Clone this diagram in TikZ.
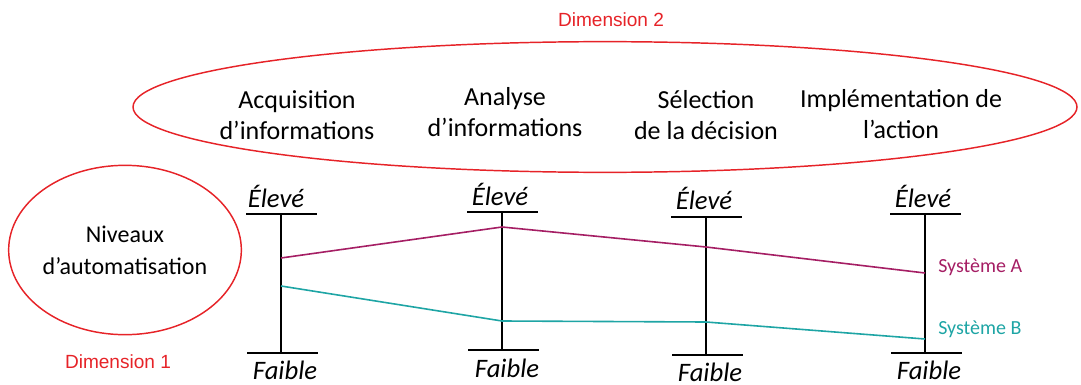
\documentclass[tikz,border=0pt]{standalone}
\usepackage{fontspec}
\setmainfont{Carlito}
\newfontfamily\labfont{Liberation Sans}
\usetikzlibrary{shapes.geometric}
\definecolor{ellred}{RGB}{230,35,40}
\definecolor{sysA}{RGB}{165,30,100}
\definecolor{sysB}{RGB}{30,165,165}
\begin{document}
\begin{tikzpicture}[x=0.75pt,y=-0.75pt,
  dimlab/.style={text=ellred,font=\labfont\fontsize{14.3}{16}\selectfont,inner sep=0},
  phase/.style={align=center,font=\fontsize{19.5}{23}\selectfont,inner sep=0},
  scaletext/.style={font=\itshape\fontsize{20}{22}\selectfont,inner sep=0},
  axis/.style={line width=1.2pt,black},
  sysAline/.style={line width=1.2pt,sysA},
  sysBline/.style={line width=1.2pt,sysB},
  syslab/.style={font=\fontsize{15}{17}\selectfont,inner sep=0,anchor=west},
  ring/.style={draw=ellred,line width=1.1pt,ellipse,inner sep=0}]
\useasboundingbox (0,0) rectangle (1081,385);
% big ellipse
\node[ring,minimum width=708pt,minimum height=98pt] (dim2) at (605,107) {};
\node[dimlab] (d2lab) at (611,20) {Dimension 2};
\node[phase] (p1) at (297,115) {Acquisition\\d’informations};
\node[phase] (p2) at (505,112) {Analyse\\d’informations};
\node[phase] (p3) at (706,115) {Sélection\\de la décision};
\node[phase] (p4) at (901,114) {Implémentation de\\l’action};
% small ellipse
\node[ring,minimum width=168pt,minimum height=127pt,align=center,font=\fontsize{18}{24}\selectfont] (dim1) at (125,250) {Niveaux\\d’automatisation};
\node[dimlab] (d1lab) at (118,362) {Dimension 1};
% axes
\foreach \i/\x/\t/\b in {1/281/214/353, 2/502/212/350, 3/706/217/355, 4/925/214/353}{
  \coordinate (top\i) at (\x,\t);
  \coordinate (bot\i) at (\x,\b);
  \coordinate (tl\i) at (\x-35,\t);
  \coordinate (tr\i) at (\x+36,\t);
  \coordinate (bl\i) at (\x-34,\b);
  \coordinate (br\i) at (\x+37,\b);
  \draw[axis] (top\i) -- (bot\i);
  \draw[axis] (tl\i) -- (tr\i);
  \draw[axis] (bl\i) -- (br\i);
}
\node[scaletext,anchor=base] (e1) at (276,207) {Élevé};
\node[scaletext,anchor=base] (e2) at (500,205) {Élevé};
\node[scaletext,anchor=base] (e3) at (704,209) {Élevé};
\node[scaletext,anchor=base] (e4) at (923,207) {Élevé};
\node[scaletext,anchor=base] (f1) at (285,379) {Faible};
\node[scaletext,anchor=base] (f2) at (507,377) {Faible};
\node[scaletext,anchor=base] (f3) at (710,381) {Faible};
\node[scaletext,anchor=base] (f4) at (929,379) {Faible};
% systems
\coordinate (a1) at (281,258);
\coordinate (a2) at (502,227);
\coordinate (a3) at (706,247);
\coordinate (a4) at (925,273);
\coordinate (b1) at (281,286);
\coordinate (b2) at (502,321);
\coordinate (b3) at (706,322);
\coordinate (b4) at (925,339);
\draw[sysAline] (a1) -- (a2) -- (a3) -- (a4);
\draw[sysBline] (b1) -- (b2) -- (b3) -- (b4);
\node[syslab,text=sysA] (sa) at (938,267) {Système A};
\node[syslab,text=sysB] (sb) at (938,329) {Système B};
\end{tikzpicture}
\end{document}
